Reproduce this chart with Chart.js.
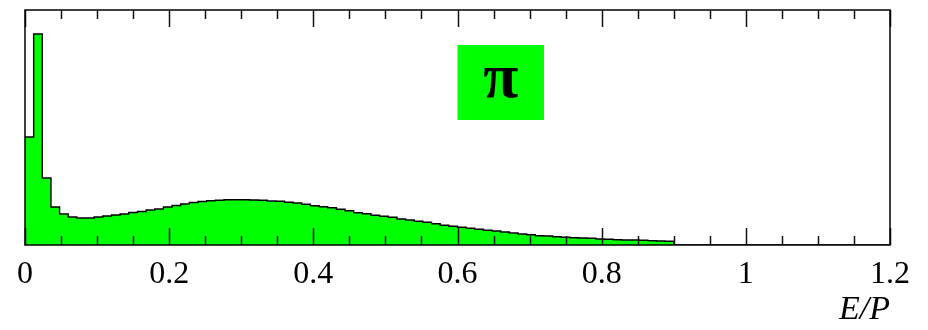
<!DOCTYPE html>
<html>
<head>
<meta charset="utf-8">
<script src="https://cdn.jsdelivr.net/npm/chart.js@4.4.1/dist/chart.umd.min.js"></script>
<style>
  html, body { margin: 0; padding: 0; background: #fff; }
  #wrap { width: 928px; height: 330px; position: relative; }
</style>
</head>
<body>
<div id="wrap"><canvas id="epChart"></canvas></div>
<script>
// histogram of E/P for pions, bins of 0.012 starting at 0
const binWidth = 0.012;
const counts = [
  108, 211, 67, 38, 31, 28, 27, 27, 28, 29,
  30, 31, 32.5, 33.5, 35, 36, 38, 39.5, 41, 42.5,
  43.5, 44.3, 44.7, 45.2, 45.3, 45.3, 45, 44.7, 44, 43.7,
  42.7, 42, 40.7, 39.3, 38.3, 37.3, 35.7, 34.3, 32.3, 31.3,
  29.7, 28.7, 27.7, 26, 25, 23.7, 22.7, 21.3, 19.7, 18.7,
  17.7, 16.7, 15.7, 14.7, 14, 13, 12, 11, 10.3, 9.3,
  9, 8.3, 7.7, 7.3, 7, 6.7, 6, 5.7, 5.3, 5,
  5, 4.7, 4.3, 4, 3.7
];
const xTickLabels = [0, 0.2, 0.4, 0.6, 0.8, 1, 1.2];
const minorStep = 0.05;
const particleLabel = 'π';
const axisTitle = 'E/P';

// step points: left edge of each bin, closing at the right edge of the last one
const stepPoints = counts.map((c, i) => ({ x: i * binWidth, y: c }));
stepPoints.push({ x: counts.length * binWidth, y: counts[counts.length - 1] });
stepPoints.push({ x: counts.length * binWidth, y: 0 });
stepPoints.push({ x: 1.2, y: 0 });

// frame, inward ticks on top and bottom, and the particle tag
const framePlugin = {
  id: 'frameTicks',
  afterDatasetsDraw(chart) {
    const { ctx, chartArea: a, scales } = chart;
    const xs = scales.x, ys = scales.y;
    ctx.save();
    ctx.strokeStyle = '#111';
    ctx.lineWidth = 1.5;
    for (let k = 0; k * minorStep <= 1.2 + 1e-9; k++) {
      const v = k * minorStep;
      const px = Math.round(xs.getPixelForValue(v)) + 0.5;
      const major = xTickLabels.some(t => Math.abs(t - v) < 1e-9);
      const len = major ? 17 : 9;
      ctx.beginPath();
      ctx.moveTo(px, a.bottom); ctx.lineTo(px, a.bottom - len);
      ctx.moveTo(px, a.top); ctx.lineTo(px, a.top + len);
      ctx.stroke();
    }
    ctx.strokeStyle = '#000';
    ctx.strokeRect(a.left, a.top, a.right - a.left, a.bottom - a.top);

    // π tag
    const bx0 = xs.getPixelForValue(0.6), bx1 = xs.getPixelForValue(0.72);
    const by0 = ys.getPixelForValue(200), by1 = ys.getPixelForValue(125);
    ctx.fillStyle = '#00ff00';
    ctx.fillRect(bx0, by0, bx1 - bx0, by1 - by0);
    ctx.fillStyle = '#000';
    ctx.font = 'bold 64px "Liberation Serif", serif';
    ctx.textAlign = 'center';
    ctx.textBaseline = 'middle';
    ctx.fillText(particleLabel, (bx0 + bx1) / 2, (by0 + by1) / 2 - 2);
    ctx.restore();
  }
};

const ctx = document.getElementById('epChart').getContext('2d');
const epChart = new Chart(ctx, {
  type: 'line',
  data: {
    datasets: [{
      data: stepPoints,
      stepped: 'before',
      fill: 'origin',
      backgroundColor: '#00ff00',
      borderColor: '#000',
      borderWidth: 1.4,
      pointRadius: 0
    }]
  },
  options: {
    responsive: true,
    maintainAspectRatio: false,
    animation: false,
    layout: { padding: { left: 25, right: 38, top: 10, bottom: 0 } },
    plugins: { legend: { display: false }, tooltip: { enabled: false } },
    scales: {
      x: {
        type: 'linear',
        min: 0,
        max: 1.2,
        grid: { display: false, drawTicks: false },
        border: { display: false },
        afterBuildTicks: (scale) => { scale.ticks = xTickLabels.map(v => ({ value: v })); },
        afterFit: (scale) => { scale.height = 85; },
        ticks: {
          color: '#000',
          padding: 10,
          maxRotation: 0,
          autoSkip: false,
          font: { family: '"Liberation Serif", serif', size: 32 },
          callback: (v) => String(+v.toFixed(1))
        },
        title: {
          display: true,
          text: axisTitle,
          align: 'end',
          color: '#000',
          padding: { top: 6, bottom: 0 },
          font: { family: '"Liberation Serif", serif', size: 34, style: 'italic' }
        }
      },
      y: {
        display: false,
        min: 0,
        max: 235
      }
    }
  },
  plugins: [framePlugin]
});
</script>
</body>
</html>
